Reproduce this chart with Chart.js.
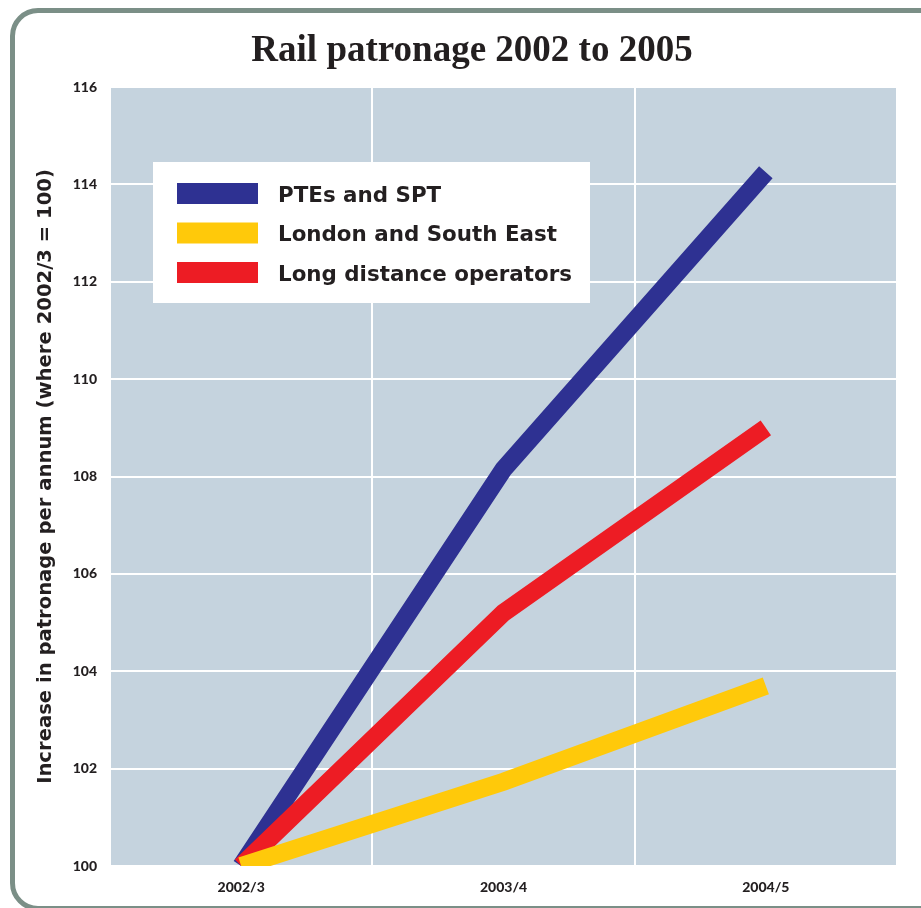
<!DOCTYPE html>
<html>
<head>
<meta charset="utf-8">
<script src="https://cdn.jsdelivr.net/npm/chart.js@4.4.1/dist/chart.umd.min.js"></script>
<style>
  html, body { margin: 0; padding: 0; background: #fff; overflow: hidden; }
  #wrap { position: relative; width: 921px; height: 908px; }
  #frame {
    position: absolute; left: 10px; top: 8px; width: 960px; height: 903px;
    border: 5px solid #7b8f87; border-radius: 28px; box-sizing: border-box;
  }
  #chart { position: absolute; left: 0; top: 0; }
</style>
</head>
<body>
<div id="wrap">
  <div id="frame"></div>
  <canvas id="chart" width="921" height="908"></canvas>
</div>
<script>
// Chart data
const chartTitle = "Rail patronage 2002 to 2005";
const yAxisTitle = "Increase in patronage per annum (where 2002/3 = 100)";
const categories = ["2002/3", "2003/4", "2004/5"];
const seriesNames = ["PTEs and SPT", "London and South East", "Long distance operators"];
const ptesSpt = [100, 108.15, 114.25];
const londonSouthEast = [100, 101.73, 103.7];
const longDistance = [100, 105.2, 109.0];
const yMin = 100;
const yMax = 116;
const yStep = 2;

const COLORS = {
  blue: "#2e3192",
  yellow: "#ffc90a",
  red: "#ed1c24",
  plot: "#c5d3de",
  text: "#231f20",
};

const SANS = "'DejaVu Sans'";

/**
 * Fill the plot area before anything else is drawn
 */
const plotBackground = {
  id: "plotBackground",
  beforeDraw(chart) {
    const { ctx, chartArea } = chart;
    ctx.save();
    ctx.fillStyle = COLORS.plot;
    ctx.fillRect(chartArea.left, chartArea.top, chartArea.width, chartArea.height);
    ctx.restore();
  },
};

/**
 * White legend box inside the plot area
 */
const boxLegend = {
  id: "boxLegend",
  afterDatasetsDraw(chart) {
    const { ctx, chartArea } = chart;
    const x = chartArea.left + 43;
    const y = chartArea.top + 75;
    ctx.save();
    ctx.fillStyle = "#ffffff";
    ctx.fillRect(x, y, 437, 141);
    ctx.font = "bold 21.4px " + SANS;
    ctx.textBaseline = "alphabetic";
    // legend keeps the original series order
    const items = chart.data.datasets.slice().sort((a, b) => a.legendIndex - b.legendIndex);
    items.forEach((ds, i) => {
      const rowY = y + 21 + i * 39.5;
      ctx.fillStyle = ds.borderColor;
      ctx.fillRect(x + 24, rowY, 81, 21);
      ctx.fillStyle = COLORS.text;
      ctx.fillText(ds.label, x + 125, rowY + 18.5);
    });
    ctx.restore();
  },
};

/**
 * Serif title centred over the framed panel
 */
const panelTitle = {
  id: "panelTitle",
  afterDraw(chart) {
    const { ctx } = chart;
    ctx.save();
    ctx.font = "bold 37px 'Liberation Serif'";
    ctx.fillStyle = COLORS.text;
    ctx.textAlign = "center";
    ctx.textBaseline = "alphabetic";
    ctx.fillText(chartTitle, 472, 61);
    ctx.restore();
  },
};

const ctx = document.getElementById("chart").getContext("2d");

new Chart(ctx, {
  type: "line",
  data: {
    labels: categories,
    datasets: [
      {
        label: seriesNames[0],
        data: ptesSpt,
        borderColor: COLORS.blue,
        legendIndex: 0,
        order: 3,
      },
      {
        label: seriesNames[1],
        data: londonSouthEast,
        borderColor: COLORS.yellow,
        legendIndex: 1,
        order: 1,
      },
      {
        label: seriesNames[2],
        data: longDistance,
        borderColor: COLORS.red,
        legendIndex: 2,
        order: 2,
      },
    ].map((ds) => ({
      ...ds,
      borderWidth: 18,
      pointRadius: 0,
      pointHoverRadius: 0,
      tension: 0,
      fill: false,
      clip: 0,
      borderCapStyle: "butt",
      borderJoinStyle: "miter",
    })),
  },
  options: {
    responsive: false,
    animation: false,
    layout: {
      padding: { top: 87, right: 24, bottom: 0, left: 0 },
    },
    plugins: {
      legend: { display: false },
      title: { display: false },
      tooltip: { enabled: false },
    },
    scales: {
      x: {
        offset: true,
        grid: {
          offset: true,
          color: "#ffffff",
          lineWidth: 2,
          drawTicks: false,
        },
        border: { display: false },
        ticks: {
          color: COLORS.text,
          font: { family: "Lato", weight: 900, size: 14 },
          padding: 13,
          maxRotation: 0,
        },
        afterFit(scale) {
          scale.height = 42;
        },
      },
      y: {
        min: yMin,
        max: yMax,
        grid: {
          color: "#ffffff",
          lineWidth: 2,
          drawTicks: false,
        },
        border: { display: false },
        ticks: {
          stepSize: yStep,
          color: COLORS.text,
          font: { family: "Lato", weight: 900, size: 14 },
          padding: 13,
        },
        title: {
          display: true,
          text: yAxisTitle,
          color: COLORS.text,
          font: { family: "DejaVu Sans", weight: "bold", size: 19.6 },
          padding: { top: 34, bottom: 0 },
        },
        afterFit(scale) {
          scale.width = 110;
        },
      },
    },
  },
  plugins: [plotBackground, boxLegend, panelTitle],
});
</script>
</body>
</html>
